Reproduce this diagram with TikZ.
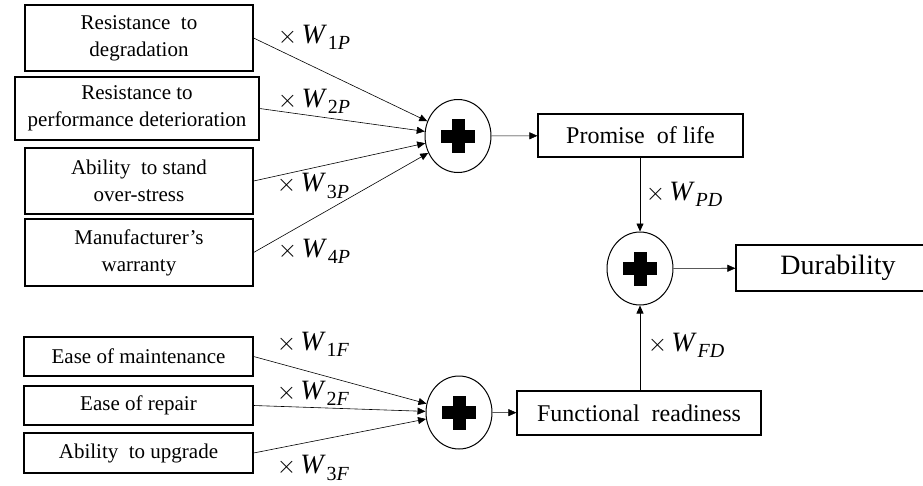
\documentclass[tikz,border=0pt]{standalone}
\usepackage{fontspec}
\setmainfont{Liberation Serif}
\usetikzlibrary{shapes.geometric,arrows.meta}
\newcommand\wgt[2]{{\fontsize{31}{31}\selectfont$\times$}\hspace{0.15em}\textit{W}\hspace{0.03em}\raisebox{-0.22em}{\fontsize{20}{20}\selectfont #1\textit{#2}}}
\tikzset{
  box/.style={draw, line width=1.2pt, inner sep=0pt, align=center, font=\fontsize{21}{27}\selectfont},
  bigbox/.style={box, font=\fontsize{24}{28}\selectfont},
  sumnode/.style={draw, ellipse, line width=1pt, minimum width=66pt, minimum height=73pt, inner sep=0pt,
    path picture={\fill ([xshift=-17pt,yshift=-6.5pt]path picture bounding box.center) rectangle ++(34pt,13pt);
                  \fill ([xshift=-6.5pt,yshift=-17pt]path picture bounding box.center) rectangle ++(13pt,34pt);}},
  conn/.style={line width=0.6pt, -{Triangle[length=8pt,width=7pt]}},
  wlab/.style={font=\fontsize{28}{28}\selectfont, inner sep=0pt}
}
\begin{document}
\begin{tikzpicture}[x=1pt,y=-1pt]
\useasboundingbox (0,0) rectangle (923,485);
\clip (0,0) rectangle (923,485);
% top inputs
\node[box, minimum width=228pt, minimum height=66pt] (b1) at (139,38) {Resistance\ \ to\\degradation};
\node[box, minimum width=244pt, minimum height=63pt] (b2) at (137,108.5) {Resistance to\\performance deterioration};
\node[box, minimum width=228pt, minimum height=66pt] (b3) at (139,181) {Ability\ \ to stand\\over-stress};
\node[box, minimum width=228pt, minimum height=67pt] (b4) at (139,252.5) {Manufacturer’s\\warranty};
\node[sumnode] (c1) at (458,136) {};
\node[bigbox, minimum width=205pt, minimum height=43pt] (pol) at (640.5,135.5) {Promise\ \ of life};
\node[sumnode] (c2) at (640,268.5) {};
\node[box, font=\fontsize{28}{30}\selectfont, minimum width=204pt, minimum height=46pt] (dur) at (838,268) {Durability};
% bottom inputs
\node[box, minimum width=229pt, minimum height=39pt] (e1) at (138.5,356.5) {Ease of maintenance};
\node[box, minimum width=229pt, minimum height=39pt] (e2) at (138.5,405.5) {Ease of repair};
\node[box, minimum width=229pt, minimum height=40pt] (e3) at (138.5,453) {Ability\ \ to upgrade};
\node[sumnode] (c3) at (459,412.5) {};
\node[bigbox, minimum width=244pt, minimum height=44pt] (fr) at (639,413) {Functional\ \ readiness};
% connectors
\draw[conn] (b1.east) -- (c1);
\draw[conn] (b2.east) -- (c1);
\draw[conn] (b3.east) -- (c1);
\draw[conn] (b4.east) -- (c1);
\draw[conn] (c1) -- (pol);
\draw[conn] (pol.south -| c2) -- (c2);
\draw[conn] (c2) -- (dur);
\draw[conn] (e1.east) -- (c3);
\draw[conn] (e2.east) -- (c3);
\draw[conn] (e3.east) -- (c3);
\draw[conn] (c3) -- (fr);
\draw[conn] (fr.north -| c2) -- (c2);
% weights
\node[wlab] (w1p) at (314,37) {\wgt{1}{P}};
\node[wlab] (w2p) at (314,101) {\wgt{2}{P}};
\node[wlab] (w3p) at (313,186) {\wgt{3}{P}};
\node[wlab] (w4p) at (314,251) {\wgt{4}{P}};
\node[wlab] (wpd) at (684,194) {\wgt{}{PD}};
\node[wlab] (w1f) at (313,344) {\wgt{1}{F}};
\node[wlab] (w2f) at (313,393) {\wgt{2}{F}};
\node[wlab] (w3f) at (313,468) {\wgt{3}{F}};
\node[wlab] (wfd) at (686,345) {\wgt{}{FD}};
\end{tikzpicture}
\end{document}
